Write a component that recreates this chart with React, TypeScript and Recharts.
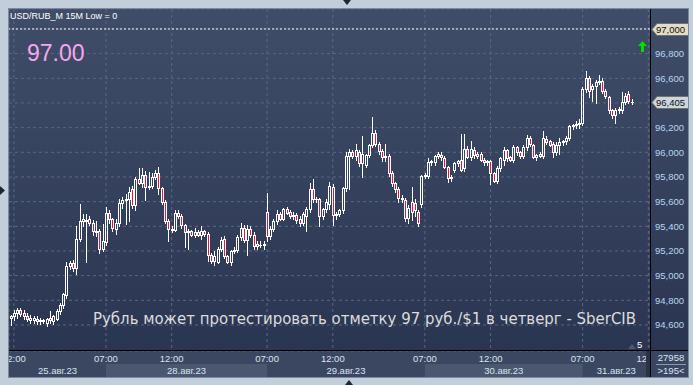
import React from "react";
import {
  Bar,
  CartesianGrid,
  ComposedChart,
  ReferenceDot,
  ReferenceLine,
  XAxis,
  YAxis,
} from "recharts";

// USD/RUB_M, 15 minute bars, 25.08 - 31.08.2023
const opens = [
  94.66, 94.67, 94.7, 94.72, 94.7, 94.67, 94.66, 94.64, 94.65, 94.63,
  94.64, 94.62, 94.66, 94.63, 94.65, 94.71, 94.76, 94.84, 95.08, 95.1,
  95.06, 95.3, 95.44, 95.45, 95.46, 95.43, 95.35, 95.36, 95.22, 95.27,
  95.51, 95.46, 95.38, 95.43, 95.59, 95.61, 95.62, 95.7, 95.57, 95.78,
  95.75, 95.82, 95.72, 95.73, 95.8, 95.83, 95.71, 95.6, 95.44, 95.38,
  95.37, 95.51, 95.48, 95.41, 95.35, 95.36, 95.33, 95.35, 95.33, 95.36,
  95.34, 95.17, 95.12, 95.11, 95.22, 95.3, 95.16, 95.11, 95.2, 95.21,
  95.31, 95.39, 95.29, 95.38, 95.33, 95.24, 95.25, 95.25, 95.52, 95.32,
  95.38, 95.44, 95.5, 95.46, 95.54, 95.52, 95.48, 95.49, 95.46, 95.43,
  95.48, 95.54, 95.7, 95.62, 95.62, 95.48, 95.54, 95.58, 95.72, 95.49,
  95.5, 95.53, 95.71, 95.97, 96.0, 95.97, 96.0, 95.91, 95.9, 95.98,
  96.06, 96.16, 96.07, 96.01, 95.96, 95.97, 95.83, 95.75, 95.7, 95.63,
  95.61, 95.47, 95.6, 95.59, 95.52, 95.58, 95.81, 95.81, 95.92, 95.92,
  95.97, 95.98, 95.95, 95.88, 95.79, 95.86, 95.91, 95.94, 95.87, 96.03,
  95.96, 96.02, 95.97, 95.99, 95.94, 95.92, 95.93, 95.83, 95.77, 95.87,
  95.94, 96.02, 95.96, 95.94, 96.04, 96.0, 95.97, 96.04, 96.12, 96.06,
  95.96, 95.99, 95.97, 96.11, 96.09, 96.07, 96.0, 96.06, 96.08, 96.09,
  96.12, 96.21, 96.22, 96.23, 96.24, 96.51, 96.6, 96.51, 96.54, 96.57,
  96.58, 96.5, 96.45, 96.34, 96.3, 96.34, 96.34, 96.41, 96.47, 96.41,
];
const highs = [
  94.68, 94.72, 94.74, 94.74, 94.72, 94.7, 94.68, 94.67, 94.67, 94.66,
  94.65, 94.66, 94.71, 94.68, 94.73, 94.78, 94.86, 95.11, 95.12, 95.13,
  95.4, 95.58, 95.5, 95.5, 95.48, 95.45, 95.44, 95.38, 95.42, 95.56,
  95.53, 95.47, 95.46, 95.62, 95.64, 95.66, 95.72, 95.73, 95.8, 95.87,
  95.87, 95.85, 95.84, 95.83, 95.86, 95.88, 95.72, 95.61, 95.46, 95.4,
  95.53, 95.53, 95.5, 95.42, 95.38, 95.37, 95.39, 95.37, 95.4, 95.37,
  95.35, 95.18, 95.2, 95.23, 95.31, 95.32, 95.17, 95.21, 95.23, 95.33,
  95.43, 95.41, 95.41, 95.4, 95.35, 95.28, 95.28, 95.28, 95.67, 95.4,
  95.46, 95.53, 95.52, 95.55, 95.56, 95.53, 95.52, 95.51, 95.48, 95.52,
  95.56, 95.75, 95.78, 95.64, 95.63, 95.55, 95.62, 95.76, 95.74, 95.52,
  95.54, 95.72, 96.0, 96.03, 96.02, 96.07, 96.02, 96.13, 95.99, 96.07,
  96.29, 96.18, 96.08, 96.03, 96.07, 95.99, 95.85, 95.76, 95.72, 95.65,
  95.63, 95.57, 95.72, 95.62, 95.53, 95.82, 95.83, 95.95, 95.94, 95.98,
  96.0, 96.0, 95.97, 95.89, 95.82, 95.92, 95.94, 96.15, 96.15, 96.05,
  96.09, 96.04, 96.0, 96.0, 95.95, 95.94, 95.94, 95.84, 95.89, 95.96,
  96.04, 96.03, 95.97, 96.06, 96.05, 96.01, 96.06, 96.14, 96.13, 96.07,
  95.99, 96.0, 96.17, 96.13, 96.1, 96.08, 96.08, 96.12, 96.1, 96.13,
  96.22, 96.23, 96.25, 96.27, 96.53, 96.66, 96.62, 96.55, 96.59, 96.63,
  96.6, 96.51, 96.46, 96.35, 96.36, 96.37, 96.49, 96.48, 96.5, 96.43,
];
const lows = [
  94.6, 94.64, 94.66, 94.67, 94.65, 94.63, 94.62, 94.62, 94.61, 94.61,
  94.62, 94.59, 94.62, 94.61, 94.64, 94.69, 94.74, 94.82, 95.05, 95.04,
  95.01, 95.28, 95.4, 95.11, 95.41, 95.33, 95.32, 95.18, 95.2, 95.25,
  95.43, 95.36, 95.34, 95.4, 95.55, 95.42, 95.44, 95.55, 95.53, 95.74,
  95.72, 95.61, 95.7, 95.71, 95.78, 95.66, 95.58, 95.43, 95.28, 95.35,
  95.36, 95.47, 95.39, 95.23, 95.22, 95.32, 95.31, 95.32, 95.3, 95.32,
  95.12, 95.1, 95.09, 95.1, 95.2, 95.14, 95.1, 95.09, 95.18, 95.19,
  95.29, 95.27, 95.17, 95.31, 95.22, 95.22, 95.23, 95.22, 95.28, 95.3,
  95.36, 95.42, 95.45, 95.45, 95.5, 95.47, 95.46, 95.43, 95.4, 95.41,
  95.36, 95.52, 95.6, 95.6, 95.4, 95.46, 95.52, 95.54, 95.41, 95.46,
  95.48, 95.51, 95.69, 95.7, 95.95, 95.94, 95.89, 95.8, 95.88, 95.96,
  96.04, 96.05, 95.99, 95.93, 95.93, 95.81, 95.73, 95.68, 95.6, 95.6,
  95.44, 95.43, 95.45, 95.48, 95.4, 95.56, 95.79, 95.79, 95.9, 95.9,
  95.95, 95.94, 95.87, 95.76, 95.77, 95.84, 95.89, 95.85, 95.85, 95.95,
  95.94, 95.95, 95.95, 95.93, 95.9, 95.9, 95.74, 95.76, 95.75, 95.85,
  95.9, 95.93, 95.93, 95.92, 95.98, 95.95, 95.95, 96.02, 96.05, 95.95,
  95.94, 95.96, 95.95, 96.07, 96.05, 95.96, 95.98, 95.99, 96.06, 96.07,
  96.1, 96.19, 96.2, 96.2, 96.22, 96.49, 96.45, 96.42, 96.4, 96.55,
  96.48, 96.44, 96.32, 96.28, 96.24, 96.32, 96.32, 96.39, 96.4, 96.39,
];
const closes = [
  94.67, 94.7, 94.72, 94.69, 94.67, 94.65, 94.64, 94.66, 94.63, 94.64,
  94.63, 94.65, 94.64, 94.67, 94.71, 94.76, 94.85, 95.08, 95.1, 95.06,
  95.3, 95.44, 95.46, 95.44, 95.43, 95.36, 95.36, 95.22, 95.28, 95.51,
  95.46, 95.39, 95.43, 95.59, 95.61, 95.62, 95.68, 95.57, 95.78, 95.75,
  95.82, 95.72, 95.73, 95.8, 95.83, 95.71, 95.6, 95.44, 95.38, 95.37,
  95.51, 95.48, 95.41, 95.35, 95.36, 95.33, 95.35, 95.33, 95.36, 95.34,
  95.17, 95.12, 95.16, 95.22, 95.29, 95.16, 95.11, 95.2, 95.21, 95.31,
  95.39, 95.29, 95.38, 95.33, 95.24, 95.26, 95.25, 95.26, 95.32, 95.38,
  95.44, 95.5, 95.46, 95.54, 95.51, 95.48, 95.49, 95.45, 95.43, 95.5,
  95.54, 95.7, 95.62, 95.62, 95.48, 95.54, 95.6, 95.73, 95.49, 95.5,
  95.53, 95.71, 95.97, 96.0, 95.97, 96.02, 95.91, 95.99, 95.98, 96.06,
  96.16, 96.07, 96.01, 95.96, 95.97, 95.83, 95.75, 95.7, 95.63, 95.62,
  95.47, 95.55, 95.52, 95.53, 95.43, 95.81, 95.82, 95.92, 95.93, 95.97,
  95.99, 95.96, 95.88, 95.79, 95.8, 95.91, 95.93, 95.86, 96.03, 95.96,
  96.03, 95.98, 95.99, 95.94, 95.92, 95.93, 95.83, 95.77, 95.87, 95.95,
  96.02, 95.95, 95.94, 96.04, 96.0, 95.97, 96.04, 96.12, 96.07, 95.96,
  95.98, 95.97, 96.12, 96.08, 96.06, 96.0, 96.06, 96.08, 96.09, 96.12,
  96.21, 96.22, 96.23, 96.24, 96.51, 96.6, 96.5, 96.54, 96.57, 96.58,
  96.5, 96.46, 96.34, 96.3, 96.34, 96.35, 96.41, 96.46, 96.42, 96.405,
];

const SHIFT = 5; // empty bars on the right
const SLOTS = closes.length + SHIFT;

const timeTicks = [1, 29, 49, 78, 98, 126, 146, 174, 194];
const timeLabels = ["12:00", "07:00", "12:00", "07:00", "12:00", "07:00", "12:00", "07:00", "12:00"];
const dayStarts = [-0.5, 29, 78, 126, 174];
const dayLabels = ["25.авг.23", "28.авг.23", "29.авг.23", "30.авг.23", "31.авг.23"];
const priceTicks = [94.6, 94.8, 95.0, 95.2, 95.4, 95.6, 95.8, 96.0, 96.2, 96.4, 96.6, 96.8, 97.0];
const priceDomain = [94.389, 97.162];
const levelPrice = 97.0;
const lastPrice = 96.405;
const signal = { i: 192, price: 96.86 };

const data = Array.from({ length: SLOTS }, (_, i) =>
  i < closes.length
    ? { i, o: opens[i], h: highs[i], l: lows[i], c: closes[i] }
    : { i },
);

const FONT = "'Liberation Sans', Arial, sans-serif";
const RED = "#e3163e";
const PLOT_LEFT = 9;
const PLOT_W = 641;
const xPx = (i: number) => PLOT_LEFT + ((i + 0.5) * PLOT_W) / SLOTS;

function Candle(props: any) {
  const { x, y, width, height, payload } = props;
  if (!payload || payload.h == null) return null;
  const { o, h, l, c } = payload;
  const top = Math.min(y, y + height);
  const k = h > l ? Math.abs(height) / (h - l) : 0;
  const py = (v: number) => Math.round(top + (h - v) * k);
  const cx = Math.round(x + width / 2);
  const yHi = py(h);
  const yLo = py(l);
  const yT = py(Math.max(o, c));
  const yB = py(Math.min(o, c));
  const down = c < o;
  return (
    <g>
      <line x1={cx + 0.5} x2={cx + 0.5} y1={yHi} y2={yT} stroke="#fff" />
      <line x1={cx + 0.5} x2={cx + 0.5} y1={yB} y2={yLo + 1} stroke="#fff" />
      {yB - yT < 1 ? (
        <line x1={cx - 1} x2={cx + 2} y1={yT + 0.5} y2={yT + 0.5} stroke="#fff" />
      ) : (
        <rect
          x={cx - 0.5}
          y={yT + 0.5}
          width={2}
          height={yB - yT}
          fill={down ? RED : "none"}
          stroke="#fff"
        />
      )}
    </g>
  );
}

function PriceTag({ viewBox, text, fill }: any) {
  if (!viewBox) return null;
  const x0 = viewBox.x + viewBox.width + 2;
  const yc = Math.round(viewBox.y);
  const d = `M${x0},${yc + 0.5} L${x0 + 5},${yc - 5.5} H${x0 + 37} V${yc + 6.5} H${x0 + 5} Z`;
  return (
    <g>
      <path d={d} fill={fill} stroke="#707468" />
      <text x={x0 + 4} y={yc + 4} fontSize={9.5} fill="#111" fontFamily={FONT}>
        {text}
      </text>
    </g>
  );
}

function SignalArrow({ cx, cy }: any) {
  const x = Math.round(cx);
  const y = Math.round(cy);
  return (
    <g fill="#00e000">
      <path d={`M${x - 4},${y} L${x + 0.5},${y - 5} L${x + 5},${y} Z`} />
      <rect x={x - 1} y={y} width={3} height={6} />
    </g>
  );
}

const fmtPrice = (v: number) => v.toFixed(3).replace(".", ",");

function PriceTick({ x, y, payload }: any) {
  const v = payload.value;
  if (Math.abs(v - levelPrice) < 1e-6 || Math.abs(v - 96.4) < 1e-6) return null;
  return (
    <text x={x + 5} y={y + 3.5} fontSize={9.5} fill="#b8d4f4" fontFamily={FONT}>
      {fmtPrice(v)}
    </text>
  );
}

function TimeTick({ x, y, index }: any) {
  return (
    <text x={x} y={y + 10.5} textAnchor="middle" fontSize={9.5} fill="#d8e4f0" fontFamily={FONT}>
      {timeLabels[index] ?? ""}
    </text>
  );
}

export default function App() {
  return (
    <div style={{ position: "relative", width: 693, height: 385, background: "#c3cedb", overflow: "hidden" }}>
      <style>{`body{margin:0}`}</style>
      {/* panel */}
      <div
        style={{
          position: "absolute",
          left: 8,
          top: 8,
          width: 681,
          height: 370,
          border: "1px solid #7c8aa0",
          boxSizing: "border-box",
        }}
      />
      <div
        style={{
          position: "absolute",
          left: 9,
          top: 9,
          width: 679,
          height: 342,
          background: "linear-gradient(#404d69, #2a3651)",
        }}
      />
      <div style={{ position: "absolute", left: 9, top: 351, width: 679, height: 26, background: "#3b4761" }} />

      <div style={{ position: "absolute", left: 9, top: 9 }}>
        <ComposedChart width={679} height={368} data={data} margin={{ top: 0, right: 0, bottom: 0, left: 0 }}>
          <CartesianGrid stroke="#5a6782" strokeDasharray="3 3" />
          <XAxis
            dataKey="i"
            type="number"
            domain={[-0.5, SLOTS - 0.5]}
            ticks={timeTicks}
            interval={0}
            height={26}
            axisLine={false}
            tickLine={false}
            tickSize={0}
            tickMargin={0}
            tick={<TimeTick />}
            allowDataOverflow
          />
          <YAxis
            orientation="right"
            type="number"
            width={38}
            domain={priceDomain}
            ticks={priceTicks}
            interval={0}
            axisLine={false}
            tickLine={false}
            tickSize={0}
            tickMargin={0}
            tick={<PriceTick />}
            allowDataOverflow
          />
          <Bar
            dataKey={(d: any) => (d.h == null ? null : [d.l, d.h])}
            barSize={3}
            shape={<Candle />}
            isAnimationActive={false}
          />
          <ReferenceLine
            y={levelPrice}
            stroke="#ffffff"
            strokeDasharray="2 2"
            label={(p: any) => <PriceTag viewBox={p.viewBox} text={fmtPrice(levelPrice)} fill="#e2ddc6" />}
          />
          <ReferenceLine
            y={lastPrice}
            stroke="none"
            label={(p: any) => <PriceTag viewBox={p.viewBox} text={fmtPrice(lastPrice)} fill="#cdd5df" />}
          />
          <ReferenceDot x={signal.i} y={signal.price} r={4} shape={<SignalArrow />} />
        </ComposedChart>
      </div>

      <svg
        width={693}
        height={385}
        style={{ position: "absolute", left: 0, top: 0, pointerEvents: "none" }}
        fontFamily={FONT}
      >
        {/* day bands */}
        {dayStarts.map((s, k) => {
          const x1 = xPx(s);
          const x2 = k + 1 < dayStarts.length ? xPx(dayStarts[k + 1]) : 650;
          return (
            <g key={k}>
              {k % 2 === 1 && <rect x={x1} y={364} width={x2 - x1} height={13} fill="#4a576f" />}
              <text x={(x1 + x2) / 2} y={373.5} textAnchor="middle" fontSize={9.5} fill="#d8e4f0">
                {dayLabels[k]}
              </text>
            </g>
          );
        })}
        <rect x={646} y={351} width={4} height={26} fill="#2b3346" />
        {/* right bottom box */}
        <rect x={651} y={351} width={37} height={26} fill="#3b4761" />
        <text x={671} y={361} textAnchor="middle" fontSize={9.5} fill="#d8e4f0">27958</text>
        <line x1={656} x2={686} y1={364.5} y2={364.5} stroke="#8b97aa" />
        <text x={671} y={374} textAnchor="middle" fontSize={9.5} fill="#d8e4f0">&gt;195&lt;</text>
        {/* axis lines */}
        <line x1={9} x2={688} y1={350.5} y2={350.5} stroke="#000" />
        <line x1={650.5} x2={650.5} y1={9} y2={377} stroke="#000" />
        {/* texts */}
        <text x={10} y={19} fontSize={9} fill="#fff">USD/RUB_M 15M Low = 0</text>
        <text x={27} y={61} fontSize={23} fill="#f6a6f0">97.00</text>
        <text
          x={93}
          y={323.5}
          fontSize={15}
          fill="#dcdcdc"
          fontFamily="'DejaVu Sans', Verdana, sans-serif"
          textLength={543}
          lengthAdjust="spacingAndGlyphs"
        >
          Рубль может протестировать отметку 97 руб./$1 в четверг - SberCIB
        </text>
        <path d="M628,349 L632,344 L636,349 Z" fill="#4e5868" />
        <text x={637} y={348} fontSize={9.5} fill="#fff">5</text>
        {/* navigation triangles */}
        <path d="M343,0 L351,0 L347,5 Z" fill="#1f2533" />
        <path d="M345,385 L353,385 L349,380 Z" fill="#1f2533" />
        <path d="M0,186 L0,195 L5,190.5 Z" fill="#1f2533" />
      </svg>
    </div>
  );
}
